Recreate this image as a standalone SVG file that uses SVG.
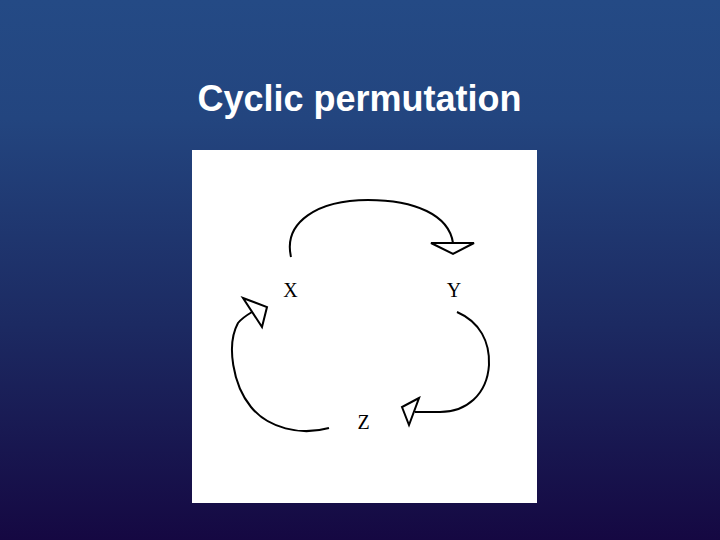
<svg xmlns="http://www.w3.org/2000/svg" width="720" height="540" viewBox="0 0 720 540">
  <defs>
    <linearGradient id="bg" x1="0" y1="0" x2="0" y2="1">
      <stop offset="0" stop-color="#244a85"/>
      <stop offset="0.22" stop-color="#23457f"/>
      <stop offset="0.6" stop-color="#1c2a62"/>
      <stop offset="1" stop-color="#150842"/>
    </linearGradient>
    <style>
      .title { font-family: "Liberation Sans", Arial, sans-serif; font-weight: bold; font-size: 36px; fill: #ffffff; }
      .lbl { font-family: "Liberation Serif", "Times New Roman", serif; font-size: 20px; fill: #000000; }
      .arc { fill: none; stroke: #000000; stroke-width: 2; }
      .head { fill: #ffffff; stroke: #000000; stroke-width: 2; stroke-linejoin: miter; }
    </style>
  </defs>
  <rect x="0" y="0" width="720" height="540" fill="url(#bg)"/>
  <text class="title" x="359.5" y="111" text-anchor="middle">Cyclic permutation</text>
  <rect x="192" y="150" width="345" height="353" fill="#ffffff"/>

  <g id="node-x"><text class="lbl" x="290.5" y="297" text-anchor="middle">X</text></g>
  <g id="node-y"><text class="lbl" x="454" y="297" text-anchor="middle">Y</text></g>
  <g id="node-z"><text class="lbl" x="363.5" y="429" text-anchor="middle">Z</text></g>

  <g id="connectors">
    <path class="arc" d="M291,257 C283,222 318,200 368,200 C415,200 449,215 453,243"/>
    <polygon class="head" points="431,243 474,243 453,254"/>
    <path class="arc" d="M457,312 C480,322 490,342 489,365 C487,395 466,412 440,412 L415,412"/>
    <polygon class="head" points="419,398 402,407 409,425"/>
    <path class="arc" d="M329,428 C300,436 268,428 251,407 C233,385 226,345 238,323 C242,318 247,315 252,312"/>
    <polygon class="head" points="243,298 267,307 262,327"/>
  </g>
</svg>
